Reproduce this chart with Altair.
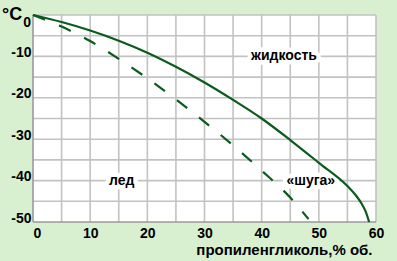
import altair as alt
import pandas as pd

# ---- data ----
conc_solid = [0, 5, 10, 15, 20, 25, 30, 35, 40, 45, 50, 55, 56.5, 57.5, 58.2, 58.8]
temp_solid = [0, -1.7, -3.75, -6.2, -9.1, -12.5, -16.3, -20.5, -25.0, -30.2, -35.7, -41.3, -43.6, -45.6, -47.5, -50]

conc_dash = [0, 5, 10, 15, 20, 25, 30, 35, 40, 45, 48.2]
temp_dash = [0, -2.8, -6.3, -10.6, -15.3, -20.4, -25.8, -31.5, -37.6, -44.1, -49.3]

region_labels = ["жидкость", "лед", "«шуга»"]
region_x = [43.9, 15.5, 48.6]
region_y = [-10, -40, -40]

x_ticks = list(range(0, 61, 5))
y_ticks = list(range(-50, 1, 5))
x_title = "пропиленгликоль,% об."
unit_label = "°C"
zero_label = "0"

FONT = "Liberation Sans"
GREEN = "#0b5b1d"
GRID = "#c2c2c2"
DOMAIN = "#9a9a9a"

x_lo, x_hi = x_ticks[0], x_ticks[-1]
y_lo, y_hi = y_ticks[0], y_ticks[-1]

solid_df = pd.DataFrame({"c": conc_solid, "t": temp_solid})
dash_df = pd.DataFrame({"c": conc_dash, "t": temp_dash})
lab_df = pd.DataFrame({"label": region_labels, "c": region_x, "t": region_y})

x_axis = alt.Axis(
    values=x_ticks,
    labelExpr="datum.value % 10 == 0 ? datum.label : ''",
    ticks=False,
    grid=False,
    domain=False,
    labelFlush=False,
    labelAlign={"condition": {"test": "datum.value == 0", "value": "left"}, "value": "center"},
    labelBaseline="alphabetic",
    labelPadding=15,
    title=x_title,
    titleFontSize=15,
    titleAnchor="end",
    titleAlign="right",
    titleBaseline="alphabetic",
    titleX=339,
    titleY=32,
)
y_axis = alt.Axis(
    values=y_ticks,
    labelExpr="datum.value % 10 == 0 && datum.value != 0 ? '' + datum.value : ''",
    ticks=False,
    grid=False,
    domain=False,
    labelBaseline="alphabetic",
    labelPadding=2,
    labelFlush=False,
    title=None,
)
x_scale = alt.Scale(domain=[x_lo, x_hi], nice=False, zero=False)
y_scale = alt.Scale(domain=[y_lo, y_hi], nice=False, zero=False)


def xe(f="c"):
    return alt.X(f"{f}:Q", scale=x_scale, axis=x_axis)


def ye(f="t"):
    return alt.Y(f"{f}:Q", scale=y_scale, axis=y_axis)


# white plot area
area = alt.Chart(pd.DataFrame({"a": [0]})).mark_rect(color="white").encode(
    x=alt.datum(x_lo, scale=x_scale, axis=x_axis), x2=alt.datum(x_hi),
    y=alt.datum(y_lo, scale=y_scale, axis=y_axis), y2=alt.datum(y_hi),
)

vgrid = alt.Chart(pd.DataFrame({"c": x_ticks[1:]})).mark_rule(
    color=GRID, strokeWidth=1.6
).encode(x=xe())
hgrid = alt.Chart(pd.DataFrame({"t": y_ticks[1:]})).mark_rule(
    color=GRID, strokeWidth=1.6
).encode(y=ye())
vdom = alt.Chart(pd.DataFrame({"c": [x_lo]})).mark_rule(
    color=DOMAIN, strokeWidth=1.6
).encode(x=xe())
hdom = alt.Chart(pd.DataFrame({"t": [y_lo]})).mark_rule(
    color=DOMAIN, strokeWidth=1.6
).encode(y=ye())

halo = alt.Chart(lab_df).mark_text(
    font=FONT, fontSize=14, fontWeight="bold", stroke="white", strokeWidth=9,
    strokeJoin="round", fill="white", baseline="middle"
).encode(x=xe(), y=ye(), text="label:N")

solid = alt.Chart(solid_df).mark_line(
    color=GREEN, strokeWidth=2.2, interpolate="monotone"
).encode(x=xe(), y=ye())

dashed = alt.Chart(dash_df).mark_line(
    color=GREEN, strokeWidth=2.2, strokeDash=[13, 15], interpolate="monotone"
).encode(x=xe(), y=ye())

labels = alt.Chart(lab_df).mark_text(
    font=FONT, fontSize=14, fontWeight="bold", color="black", baseline="middle"
).encode(x=xe(), y=ye(), text="label:N")

unit = alt.Chart(pd.DataFrame({"s": [unit_label]})).mark_text(
    font=FONT, fontSize=18, fontWeight="bold", color="black",
    align="left", baseline="alphabetic"
).encode(x=alt.value(-31), y=alt.value(5), text="s:N")

zero = alt.Chart(pd.DataFrame({"s": [zero_label]})).mark_text(
    font=FONT, fontSize=14, fontWeight="bold", color="black",
    align="right", baseline="alphabetic"
).encode(x=alt.value(-2), y=alt.value(12), text="s:N")

chart = alt.layer(area, vgrid, hgrid, vdom, hdom, halo, solid, dashed, labels, unit, zero).properties(
    width=343,
    height=207,
    autosize="none",
    padding={"left": 33, "top": 15, "right": 21, "bottom": 39},
).configure(
    background="#D8F0D0",
).configure_view(
    strokeWidth=0
).configure_axis(
    labelFont=FONT,
    labelFontSize=14,
    labelFontWeight="bold",
    labelColor="black",
    titleFont=FONT,
    titleFontWeight="bold",
    titleColor="black",
)

chart.save("out.html", embed_options={"renderer": "svg", "actions": False})
